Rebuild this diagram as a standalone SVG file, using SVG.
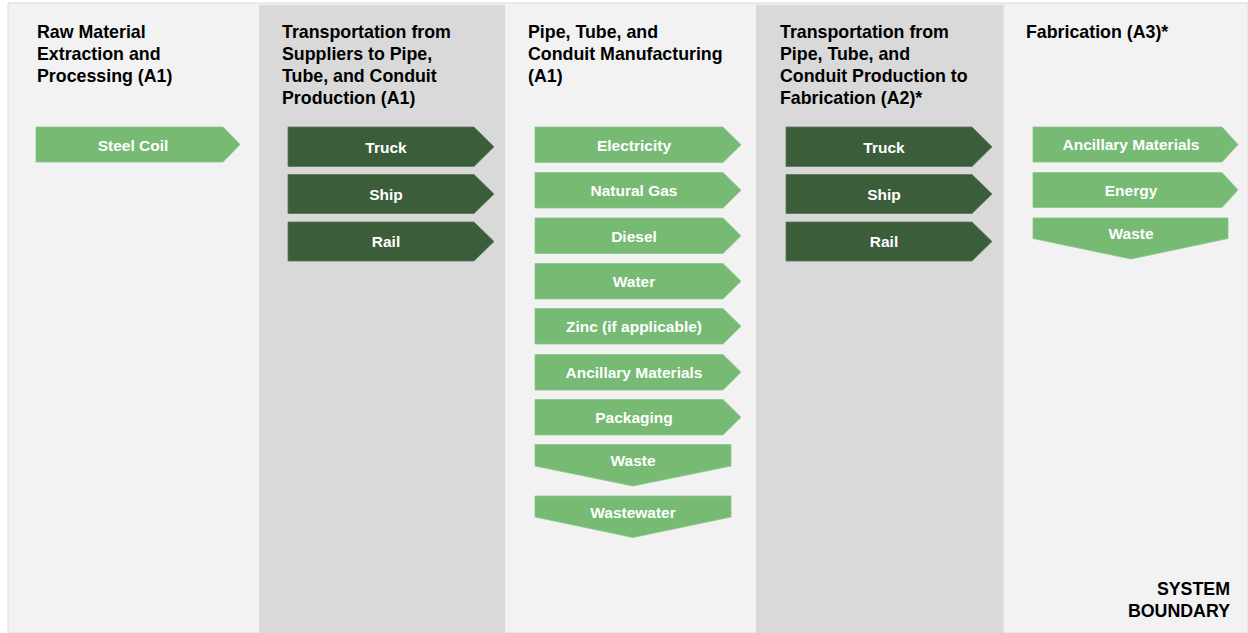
<svg xmlns="http://www.w3.org/2000/svg" width="1248" height="633" viewBox="0 0 1248 633">
<style>
.bg{fill:#f2f2f2}
.dk{fill:#d9d9d9}
.hd{font-family:"Liberation Sans",Arial,sans-serif;font-weight:bold;font-size:17.8px;fill:#000}
.lt{fill:#76ba74;stroke:#8cc78a;stroke-width:0.8}
.dg{fill:#3b5d3a;stroke:#5a7a58;stroke-width:0.8}
.lb{font-family:"Liberation Sans",Arial,sans-serif;font-weight:bold;font-size:15.5px;fill:#fff;text-anchor:middle}
</style>
<rect x="0" y="0" width="1248" height="633" fill="#ffffff"/>
<g id="panel">
<rect x="8" y="3" width="1240" height="630" class="bg" stroke="#dcdcdc" stroke-width="1"/>
<rect x="259" y="5" width="246" height="628" class="dk"/>
<rect x="756" y="5" width="247" height="628" class="dk"/>
<line x1="1003.5" y1="5" x2="1003.5" y2="633" stroke="#e4e4e4" stroke-width="1"/>
</g>
<g id="headers">
<text class="hd" x="37" y="38"><tspan x="37">Raw Material</tspan><tspan x="37" dy="22">Extraction and</tspan><tspan x="37" dy="22">Processing (A1)</tspan></text>
<text class="hd" x="282" y="38"><tspan x="282">Transportation from</tspan><tspan x="282" dy="22">Suppliers to Pipe,</tspan><tspan x="282" dy="22">Tube, and Conduit</tspan><tspan x="282" dy="22">Production (A1)</tspan></text>
<text class="hd" x="528" y="38"><tspan x="528">Pipe, Tube, and</tspan><tspan x="528" dy="22">Conduit Manufacturing</tspan><tspan x="528" dy="22">(A1)</tspan></text>
<text class="hd" x="780" y="38"><tspan x="780">Transportation from</tspan><tspan x="780" dy="22">Pipe, Tube, and</tspan><tspan x="780" dy="22">Conduit Production to</tspan><tspan x="780" dy="22">Fabrication (A2)*</tspan></text>
<text class="hd" x="1026" y="38">Fabrication (A3)*</text>
<text class="hd" x="1230" y="594.5" text-anchor="end">SYSTEM</text>
<text class="hd" x="1230" y="616.5" text-anchor="end">BOUNDARY</text>
</g>
<g id="n-steel-coil"><path class="lt" d="M36 127H223L240 144.5L223 162H36Z"/><text class="lb" x="133" y="150.5">Steel Coil</text></g>
<g id="n-truck-1"><path class="dg" d="M288 127H474L494 146.75L474 166.5H288Z"/><text class="lb" x="386" y="152.5">Truck</text></g>
<g id="n-ship-1"><path class="dg" d="M288 174.5H474L494 194L474 213.5H288Z"/><text class="lb" x="386" y="199.5">Ship</text></g>
<g id="n-rail-1"><path class="dg" d="M288 222H474L494 241.5L474 261H288Z"/><text class="lb" x="386" y="247">Rail</text></g>
<g id="n-electricity"><path class="lt" d="M535 127H723L741 144.75L723 162.5H535Z"/><text class="lb" x="634" y="150.5">Electricity</text></g>
<g id="n-natural-gas"><path class="lt" d="M535 172.5H723L741 190.25L723 208H535Z"/><text class="lb" x="634" y="196">Natural Gas</text></g>
<g id="n-diesel"><path class="lt" d="M535 218H723L741 235.75L723 253.5H535Z"/><text class="lb" x="634" y="241.5">Diesel</text></g>
<g id="n-water"><path class="lt" d="M535 263.5H723L741 281.25L723 299H535Z"/><text class="lb" x="634" y="287">Water</text></g>
<g id="n-zinc"><path class="lt" d="M535 308.5H723L741 326.25L723 344H535Z"/><text class="lb" x="634" y="332">Zinc (if applicable)</text></g>
<g id="n-ancillary-1"><path class="lt" d="M535 354.5H723L741 372.25L723 390H535Z"/><text class="lb" x="634" y="378">Ancillary Materials</text></g>
<g id="n-packaging"><path class="lt" d="M535 399.5H723L741 417.25L723 435H535Z"/><text class="lb" x="634" y="423">Packaging</text></g>
<g id="n-waste-1"><path class="lt" d="M535 444.5H731V466L633 486L535 466Z"/><text class="lb" x="633" y="466">Waste</text></g>
<g id="n-wastewater"><path class="lt" d="M535 496H731V517L633 537.5L535 517Z"/><text class="lb" x="633" y="517.5">Wastewater</text></g>
<g id="n-truck-2"><path class="dg" d="M786 127H972L992 146.75L972 166.5H786Z"/><text class="lb" x="884" y="152.5">Truck</text></g>
<g id="n-ship-2"><path class="dg" d="M786 174.5H972L992 194L972 213.5H786Z"/><text class="lb" x="884" y="199.5">Ship</text></g>
<g id="n-rail-2"><path class="dg" d="M786 222H972L992 241.5L972 261H786Z"/><text class="lb" x="884" y="247">Rail</text></g>
<g id="n-ancillary-2"><path class="lt" d="M1033 127H1222L1238 144.5L1222 162H1033Z"/><text class="lb" x="1131" y="150">Ancillary Materials</text></g>
<g id="n-energy"><path class="lt" d="M1033 172.5H1222L1238 190L1222 207.5H1033Z"/><text class="lb" x="1131" y="195.5">Energy</text></g>
<g id="n-waste-2"><path class="lt" d="M1033 218H1228V238.5L1131 259L1033 238.5Z"/><text class="lb" x="1131" y="239">Waste</text></g>
<g id="connectors"></g>
</svg>
